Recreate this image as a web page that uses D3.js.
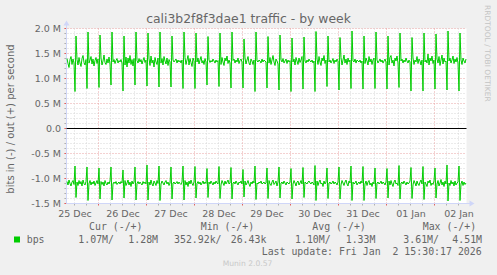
<!DOCTYPE html>
<html>
<head>
<meta charset="utf-8">
<script src="https://cdn.jsdelivr.net/npm/d3@7"></script>
<style>
  html, body { margin: 0; padding: 0; background: #F0F0F0; }
  svg { display: block; }
  text { font-family: "DejaVu Sans", sans-serif; fill: #666666; }
  .mono { font-family: "DejaVu Sans Mono", monospace; white-space: pre; }
</style>
</head>
<body>
<svg id="chart" width="497" height="275"></svg>
<script>
// ---------------- data ----------------
const titleText = "cali3b2f8f3dae1 traffic - by week";
const yAxisTitle = "bits in (-) / out (+) per second";
const seriesName = "bps";
// time of first sample (UTC) and sample step (30 min)
const startTime = Date.UTC(2025, 11, 25, 8, 0);
const stepMinutes = 30;

const dayLabels = ["25 Dec","26 Dec","27 Dec","28 Dec","29 Dec","30 Dec","31 Dec","01 Jan","02 Jan"];
const dayDates = [[2025,11,25],[2025,11,26],[2025,11,27],[2025,11,28],[2025,11,29],[2025,11,30],[2025,11,31],[2026,0,1],[2026,0,2]];

const yTickValues = [2.0, 1.5, 1.0, 0.5, 0.0, -0.5, -1.0, -1.5];
const yTickLabels = ["2.0 M","1.5 M","1.0 M","0.5 M","0.0","-0.5 M","-1.0 M","-1.5 M"];

// out (+) traffic, Mbit/s, one value per 30 min
const outMbps = [
1.40,1.30,1.22,1.38,1.44,1.28,1.39,1.31,
0.74,1.85,1.38,1.27,1.42,1.31,1.24,1.40,1.46,1.32,1.27,1.38,
0.80,1.93,1.31,1.37,1.44,1.29,1.39,1.25,1.36,1.42,1.30,1.39,
0.82,1.87,1.41,1.27,1.35,1.47,1.32,1.28,1.39,1.31,1.43,1.29,
0.87,1.93,1.33,1.38,1.30,1.36,1.40,1.31,1.36,1.33,1.38,1.31,
0.75,1.85,1.27,1.43,1.23,1.41,1.31,1.46,1.28,1.38,1.25,1.40,
0.87,1.93,1.36,1.31,1.40,1.33,1.38,1.29,1.36,1.42,1.32,1.37,
0.85,1.91,1.40,1.26,1.45,1.31,1.37,1.23,1.42,1.33,1.28,1.41,
0.83,1.93,1.31,1.40,1.27,1.44,1.35,1.29,1.41,1.26,1.38,1.33,
0.83,1.85,1.37,1.33,1.36,1.39,1.31,1.37,1.33,1.36,1.31,1.37,
0.80,1.93,1.42,1.28,1.37,1.46,1.27,1.40,1.32,1.24,1.41,1.35,
0.80,1.91,1.33,1.41,1.29,1.37,1.44,1.31,1.36,1.28,1.40,1.33,
0.87,1.84,1.37,1.32,1.36,1.33,1.39,1.35,1.31,1.37,1.33,1.36,
0.84,1.91,1.28,1.42,1.33,1.26,1.41,1.35,1.45,1.30,1.37,1.31,
0.81,1.93,1.36,1.39,1.31,1.37,1.33,1.41,1.30,1.36,1.39,1.33,
0.81,1.79,1.41,1.29,1.37,1.44,1.31,1.27,1.39,1.35,1.28,1.37,
0.74,1.93,1.35,1.33,1.37,1.35,1.31,1.39,1.33,1.37,1.35,1.33,
0.81,1.84,1.31,1.42,1.28,1.37,1.46,1.33,1.26,1.39,1.35,1.29,
0.77,1.87,1.37,1.33,1.40,1.31,1.35,1.39,1.30,1.37,1.33,1.36,
0.74,1.81,1.33,1.39,1.27,1.42,1.35,1.28,1.41,1.32,1.37,1.44,
0.79,1.83,1.35,1.31,1.37,1.33,1.39,1.35,1.33,1.37,1.31,1.35,
0.74,1.94,1.39,1.28,1.44,1.33,1.26,1.41,1.35,1.46,1.30,1.37,
0.84,1.85,1.33,1.37,1.31,1.35,1.40,1.30,1.37,1.33,1.39,1.35,
0.77,1.82,1.42,1.27,1.37,1.47,1.31,1.39,1.28,1.41,1.33,1.37,
0.80,1.95,1.35,1.33,1.39,1.31,1.37,1.35,1.33,1.37,1.31,1.35,
0.79,1.85,1.30,1.41,1.35,1.27,1.44,1.33,1.39,1.28,1.37,1.41,
0.80,1.93,1.37,1.31,1.35,1.39,1.33,1.37,1.31,1.35,1.39,1.33,
0.79,1.85,1.27,1.42,1.46,1.31,1.37,1.25,1.41,1.35,1.45,1.31,
0.82,1.91,1.35,1.39,1.31,1.37,1.33,1.41,1.35,1.31,1.37,1.33,
0.75,1.82,1.41,1.28,1.37,1.33,1.44,1.30,1.39,1.35,1.27,1.37,
0.75,1.91,1.33,1.37,1.31,1.49,1.27,1.41,1.35,1.45,1.30,1.37,
0.79,1.89,1.39,1.31,1.44,1.26,1.37,1.47,1.29,1.41,1.33,1.35,
0.77,1.95,1.35,1.41,1.31,1.37,1.45,1.30,1.39,1.33,1.42,1.31,
0.75,1.91,1.37,1.28,1.41,1.35,1.31,1.39
];

// in (-) traffic, Mbit/s, one value per 30 min (drawn below zero)
const inMbps = [
1.06,1.13,1.03,1.10,1.15,1.07,1.04,1.12,
0.75,1.38,1.07,1.14,1.04,1.11,1.06,1.15,1.03,1.10,1.13,1.06,
0.77,1.44,1.10,1.04,1.13,1.07,1.11,1.05,1.14,1.09,1.04,1.11,
0.79,1.41,1.06,1.12,1.07,1.15,1.04,1.10,1.13,1.07,1.11,1.05,
0.77,1.43,1.11,1.07,1.10,1.06,1.12,1.09,1.07,1.11,1.06,1.09,
0.83,1.39,1.04,1.14,1.09,1.03,1.13,1.07,1.16,1.05,1.11,1.07,
0.77,1.43,1.10,1.06,1.11,1.07,1.10,1.13,1.06,1.10,1.07,1.11,
0.73,1.43,1.07,1.13,1.03,1.11,1.15,1.05,1.09,1.14,1.04,1.10,
0.75,1.44,1.11,1.05,1.09,1.13,1.07,1.04,1.11,1.07,1.14,1.09,
0.77,1.41,1.09,1.07,1.11,1.09,1.06,1.11,1.07,1.10,1.12,1.07,
0.75,1.43,1.04,1.13,1.07,1.16,1.05,1.11,1.03,1.10,1.14,1.07,
0.76,1.39,1.10,1.06,1.11,1.07,1.13,1.09,1.05,1.11,1.07,1.10,
0.80,1.38,1.07,1.11,1.05,1.09,1.13,1.07,1.11,1.05,1.09,1.11,
0.76,1.40,1.13,1.04,1.09,1.14,1.05,1.11,1.07,1.03,1.11,1.09,
0.78,1.41,1.09,1.07,1.11,1.05,1.09,1.13,1.07,1.09,1.05,1.11,
0.82,1.37,1.05,1.13,1.09,1.04,1.11,1.16,1.07,1.11,1.05,1.09,
0.75,1.42,1.09,1.11,1.07,1.09,1.05,1.11,1.09,1.07,1.11,1.09,
0.79,1.40,1.04,1.11,1.14,1.07,1.03,1.12,1.09,1.05,1.15,1.07,
0.77,1.39,1.09,1.07,1.11,1.05,1.09,1.13,1.07,1.09,1.11,1.07,
0.80,1.41,1.11,1.04,1.09,1.15,1.07,1.05,1.13,1.09,1.04,1.11,
0.78,1.38,1.07,1.09,1.11,1.07,1.05,1.09,1.11,1.07,1.09,1.13,
0.74,1.44,1.05,1.14,1.07,1.03,1.11,1.09,1.16,1.05,1.11,1.07,
0.79,1.40,1.09,1.07,1.11,1.09,1.05,1.11,1.07,1.09,1.13,1.07,
0.77,1.41,1.13,1.04,1.09,1.14,1.07,1.03,1.11,1.15,1.05,1.09,
0.75,1.44,1.07,1.11,1.09,1.05,1.13,1.09,1.07,1.11,1.05,1.09,
0.76,1.44,1.11,1.05,1.14,1.07,1.04,1.13,1.09,1.16,1.07,1.11,
0.79,1.40,1.09,1.07,1.11,1.09,1.05,1.11,1.07,1.09,1.13,1.07,
0.80,1.39,1.05,1.13,1.04,1.11,1.16,1.07,1.03,1.11,1.09,1.14,
0.74,1.41,1.09,1.07,1.11,1.05,1.09,1.13,1.07,1.11,1.09,1.05,
0.78,1.40,1.13,1.04,1.09,1.15,1.05,1.11,1.14,1.07,1.03,1.11,
0.76,1.42,1.07,1.11,1.16,1.05,1.09,1.03,1.14,1.09,1.12,1.05,
0.79,1.39,1.11,1.04,1.15,1.09,1.02,1.13,1.07,1.16,1.05,1.11,
0.73,1.45,1.09,1.14,1.04,1.11,1.07,1.15,1.05,1.13,1.09,1.07,
0.75,1.44,1.11,1.05,1.14,1.07,1.12,1.09
];

const legendHeaders = ["Cur (-/+)", "Min (-/+)", "Avg (-/+)", "Max (-/+)"];
const legendValues = ["1.07M/", "1.28M", "352.92k/", "26.43k", "1.10M/", "1.33M", "3.61M/", "4.51M"];
const lastUpdate = "Last update: Fri Jan  2 15:30:17 2026";
const muninVersion = "Munin 2.0.57";
const rrdCredit = "RRDTOOL / TOBI OETIKER";

// ---------------- layout ----------------
const svg = d3.select("#chart");
const L = 66.5, R = 466.5, T = 28.5, B = 203.5;
const hours = 200;
const endTime = startTime + hours * 3600 * 1000;

const x = d3.scaleUtc().domain([new Date(startTime), new Date(endTime)]).range([L, R]);
const y = d3.scaleLinear().domain([-1.5, 2.0]).range([B, T]);

const green = "#00CC00";
const axisColor = "#CFD6F8";
const minorGrid = "#D6D6D6";
const majorGrid = "#E9A3A3";

// canvas
svg.append("rect").attr("x", L).attr("y", T).attr("width", R - L).attr("height", B - T).attr("fill", "#FFFFFF");

// grid: horizontal
const yMinor = d3.range(-15, 21).map(v => v / 10);
yMinor.forEach(v => {
  const major = Math.abs(v * 2 - Math.round(v * 2)) < 1e-6;
  svg.append("line")
    .attr("x1", L - 2).attr("x2", R).attr("y1", y(v)).attr("y2", y(v))
    .attr("stroke", major ? majorGrid : minorGrid)
    .attr("stroke-dasharray", "1,2");
});

// grid: vertical (every 6 hours, midnight major)
const sixHours = d3.utcHour.every(6).range(new Date(startTime), new Date(endTime + 1));
sixHours.forEach(t => {
  const major = t.getUTCHours() === 0;
  svg.append("line")
    .attr("x1", x(t)).attr("x2", x(t)).attr("y1", T).attr("y2", B + 2)
    .attr("stroke", major ? majorGrid : minorGrid)
    .attr("stroke-dasharray", "1,2");
  svg.append("line")
    .attr("x1", x(t)).attr("x2", x(t)).attr("y1", B).attr("y2", B + 2)
    .attr("stroke", major ? "#E06060" : "#B0B0B0");
});
yMinor.forEach(v => {
  const major = Math.abs(v * 2 - Math.round(v * 2)) < 1e-6;
  svg.append("line")
    .attr("x1", L - 2).attr("x2", L).attr("y1", y(v)).attr("y2", y(v))
    .attr("stroke", major ? "#E06060" : "#B0B0B0");
});

// axes lines + arrows
svg.append("line").attr("x1", L).attr("x2", R + 4).attr("y1", B).attr("y2", B).attr("stroke", axisColor);
svg.append("line").attr("x1", L).attr("x2", L).attr("y1", B).attr("y2", T - 4).attr("stroke", axisColor);
svg.append("path").attr("d", `M${R + 3},${B - 3} L${R + 8},${B} L${R + 3},${B + 3} Z`).attr("fill", axisColor);
svg.append("path").attr("d", `M${L - 3},${T - 3} L${L},${T - 8} L${L + 3},${T - 3} Z`).attr("fill", axisColor);

// data lines
const tAt = i => new Date(startTime + i * stepMinutes * 60000 + 15 * 60000);
const lineGen = d3.line().x(d => x(d.t)).y(d => y(d.v));
const outData = outMbps.map((v, i) => ({ t: tAt(i), v: v }));
const inData = inMbps.map((v, i) => ({ t: tAt(i), v: -v }));
svg.append("path").datum(inData).attr("d", lineGen).attr("fill", "none").attr("stroke", green).attr("stroke-width", 1);
svg.append("path").datum(outData).attr("d", lineGen).attr("fill", "none").attr("stroke", green).attr("stroke-width", 1);

// zero line
svg.append("line").attr("x1", L).attr("x2", R).attr("y1", y(0)).attr("y2", y(0)).attr("stroke", "#000000");

// y tick labels via d3 axis
const yAxis = d3.axisLeft(y).tickValues(yTickValues).tickSize(0).tickPadding(0)
  .tickFormat((d, i) => yTickLabels[i]);
const gy = svg.append("g").attr("transform", `translate(${L - 5.5},0)`).call(yAxis);
gy.select(".domain").remove();
gy.selectAll("text").attr("font-family", "DejaVu Sans").attr("font-size", "9.5px").attr("fill", "#666666").attr("dy", "0.34em");

// x tick labels (centred at noon of each day)
const noonDates = dayDates.map(d => new Date(Date.UTC(d[0], d[1], d[2], 12, 0)));
const xAxis = d3.axisBottom(x).tickValues(noonDates).tickSize(0).tickPadding(0)
  .tickFormat((d, i) => dayLabels[i]);
const gx = svg.append("g").attr("transform", `translate(0,${B + 13})`).call(xAxis);
gx.select(".domain").remove();
gx.selectAll("text").attr("font-family", "DejaVu Sans").attr("font-size", "9.5px").attr("fill", "#666666").attr("dy", 0);

// title
svg.append("text").attr("x", 248.5).attr("y", 23).attr("text-anchor", "middle")
  .attr("font-size", "12.4px").text(titleText);

// y axis title
svg.append("text").attr("transform", "translate(14,119) rotate(-90)").attr("text-anchor", "middle")
  .attr("font-size", "10px").text(yAxisTitle);

// right credit
svg.append("text").attr("transform", "translate(485,5) rotate(90)")
  .attr("font-size", "7.5px").style("fill", "#C4C4C4").text(rrdCredit);

// legend
const headerX = [89, 200.7, 312.3, 422.7];
legendHeaders.forEach((h, i) => {
  svg.append("text").attr("class", "mono").attr("x", headerX[i]).attr("y", 230).attr("font-size", "9.9px").text(h);
});
svg.append("rect").attr("x", 14).attr("y", 236.5).attr("width", 6).attr("height", 6).attr("fill", green);
svg.append("text").attr("class", "mono").attr("x", 26.7).attr("y", 242.5).attr("font-size", "9.9px").text(seriesName);
const valueX = [78.3, 128.3, 174, 230.7, 295, 345.7, 403.3, 452.3];
legendValues.forEach((v, i) => {
  svg.append("text").attr("class", "mono").attr("x", valueX[i]).attr("y", 242.5).attr("font-size", "9.9px").text(v);
});
svg.append("text").attr("class", "mono").attr("x", 261.7).attr("y", 254.5).attr("font-size", "9.9px").text(lastUpdate);

svg.append("text").attr("x", 222.7).attr("y", 266).attr("font-size", "7.6px").style("fill", "#C8C8C8").text(muninVersion);
</script>
</body>
</html>
